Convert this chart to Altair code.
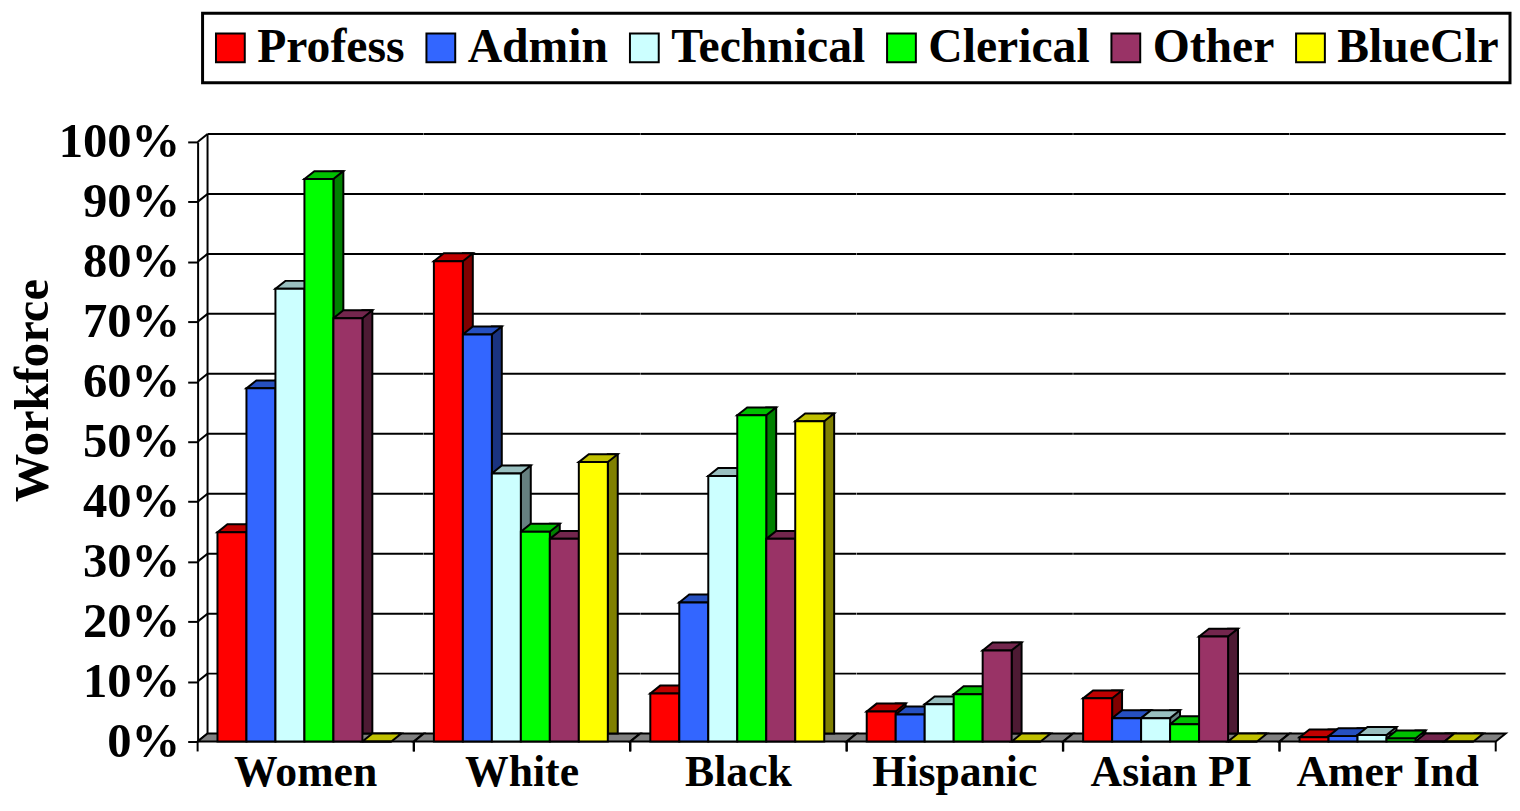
import altair as alt
import pandas as pd

# ---------------- data ----------------
groups = ["Women", "White", "Black", "Hispanic", "Asian PI", "Amer Ind"]
series = ["Profess", "Admin", "Technical", "Clerical", "Other", "BlueClr"]
profess = [34.9, 80.1, 8.0, 5.0, 7.2, 0.7]
admin = [58.9, 67.9, 23.2, 4.5, 3.9, 0.9]
technical = [75.5, 44.7, 44.3, 6.2, 3.9, 1.1]
clerical = [93.8, 35.0, 54.4, 7.9, 2.9, 0.5]
other = [70.6, 33.8, 33.8, 15.2, 17.5, 0.0]
blueclr = [0.0, 46.6, 53.4, 0.0, 0.0, 0.0]
tick_values = [0, 10, 20, 30, 40, 50, 60, 70, 80, 90, 100]

# ---------------- styles ----------------
front_colors = ["#FF0000", "#3366FF", "#CCFFFF", "#00FF00", "#993366", "#FFFF00"]
top_colors = ["#C00000", "#2650C0", "#99C0C0", "#00C000", "#73264D", "#C0C000"]
side_colors = ["#800000", "#1A3380", "#668080", "#008000", "#4D1A33", "#808000"]
FONT = "Liberation Serif"

W = 217.6           # width of one group panel
H = 604             # plot height
STEP = 29.2         # bar width
DX, DY = 10, 8      # 3-D depth offsets
PO = (W / STEP - 6) / 2
ALIGN = 20 / (W - 6 * STEP)
U = 10.0            # custom-symbol unit (size 400 -> 10px per unit)

top_path = "M{a:.3f},0L{b:.3f},0L{c:.3f},{d:.3f}L{e:.3f},{d:.3f}Z".format(
    a=-STEP / 2 / U, b=STEP / 2 / U, c=(STEP / 2 + DX) / U, d=-DY / U, e=(-STEP / 2 + DX) / U)
floor_path = "M0,0L{b:.3f},0L{c:.3f},{d:.3f}L{e:.3f},{d:.3f}Z".format(
    b=W / U, c=(W + DX) / U, d=-DY / U, e=DX / U)

# ---------------- table ----------------
vals = [profess, admin, technical, clerical, other, blueclr]
records = []
for si, s in enumerate(series):
    for gi, g in enumerate(groups):
        records.append({"kind": "bar", "group": g, "series": s, "value": vals[si][gi]})
for g in groups:
    for t in tick_values:
        records.append({"kind": "grid", "group": g, "series": "", "tick": t})
df = pd.DataFrame(records)

x_enc = alt.X("series:N", sort=series,
              scale=alt.Scale(domain=series, paddingInner=0, paddingOuter=PO, align=ALIGN),
              axis=None)
y_scale = alt.Scale(domain=[0, 100], nice=False, zero=True)
y_axis = alt.Axis(values=tick_values, labelExpr="datum.value + '%'", grid=False,
                  tickSize=10, tickWidth=2, tickColor="black",
                  domainColor="black", domainWidth=2,
                  labelFont=FONT, labelFontSize=49, labelFontWeight="bold",
                  labelColor="black", labelPadding=8, labelOverlap=False,
                  title="Workforce", titleFont=FONT, titleFontSize=49,
                  titleFontWeight="bold", titleColor="black", titlePadding=1,
                  titleY=250)

base = alt.Chart()
is_bar = alt.datum.kind == "bar"
is_grid = alt.datum.kind == "grid"
one_row = (alt.datum.kind == "bar") & (alt.datum.series == "Profess")

# back-wall gridlines
grid = base.mark_rule(color="black", strokeWidth=2, yOffset=-DY).encode(
    y=alt.Y("tick:Q", scale=y_scale, axis=y_axis, title="Workforce"),
    x=alt.value(DX), x2=alt.value(W + DX),
).transform_filter(is_grid & (alt.datum.tick > 0))

# diagonal wall ticks (first panel)
wall_diag = base.mark_rule(color="black", strokeWidth=2, y2Offset=-DY).encode(
    y=alt.Y("tick:Q", scale=y_scale, axis=y_axis, title="Workforce"), y2="tick:Q",
    x=alt.value(0), x2=alt.value(DX),
).transform_filter(is_grid & (alt.datum.group == "Women"))

wall_back = base.mark_rule(color="black", strokeWidth=2, yOffset=-DY, y2Offset=-DY).encode(
    y=alt.YDatum(0, scale=y_scale, axis=y_axis, title="Workforce"), y2=alt.Y2Datum(100),
    x=alt.value(DX),
).transform_filter(one_row & (alt.datum.group == "Women"))

floor = base.mark_point(shape=floor_path, size=U * U * 4, filled=True, fill="#808080",
                        stroke="black", strokeWidth=2, opacity=1).encode(
    x=alt.value(0), y=alt.YDatum(0, scale=y_scale, axis=y_axis, title="Workforce"),
).transform_filter(one_row)

sides = base.mark_bar(width=DX, xOffset=STEP / 2 + DX / 2, yOffset=-DY, y2Offset=-DY,
                      stroke="black", strokeWidth=2).encode(
    x=x_enc,
    y=alt.Y("value:Q", scale=y_scale, axis=y_axis, title="Workforce"),
    fill=alt.Fill("series:N", scale=alt.Scale(domain=series, range=side_colors), legend=None),
).transform_filter(is_bar)

tops = base.mark_point(shape=top_path, size=U * U * 4, filled=True, stroke="black",
                       strokeWidth=2, opacity=1).encode(
    x=x_enc,
    y=alt.Y("value:Q", scale=y_scale, axis=y_axis, title="Workforce"),
    fill=alt.Fill("series:N", scale=alt.Scale(domain=series, range=top_colors), legend=None),
).transform_filter(is_bar)

fronts = base.mark_bar(stroke="black", strokeWidth=2).encode(
    x=x_enc,
    y=alt.Y("value:Q", scale=y_scale, axis=y_axis, title="Workforce"),
    color=alt.Color("series:N", sort=series,
                    scale=alt.Scale(domain=series, range=front_colors),
                    legend=alt.Legend(title=None, orient="none", legendX=5, legendY=-129.7,
                                      direction="horizontal", columns=6,
                                      symbolType="square", symbolSize=841,
                                      symbolStrokeColor="black", symbolStrokeWidth=2,
                                      symbolOffset=-7,
                                      labelFont=FONT, labelFontSize=48,
                                      labelFontWeight="bold", labelColor="black",
                                      labelLimit=400, labelOffset=3, columnPadding=17,
                                      padding=11, strokeColor="black")),
).transform_filter(is_bar)

tick_left = base.mark_rule(color="black", strokeWidth=2, y2Offset=10).encode(
    x=alt.value(0), y=alt.YDatum(0, scale=y_scale, axis=y_axis, title="Workforce"),
    y2=alt.Y2Datum(0),
).transform_filter(one_row)

tick_right = base.mark_rule(color="black", strokeWidth=2, y2Offset=10).encode(
    x=alt.value(W), y=alt.YDatum(0, scale=y_scale, axis=y_axis, title="Workforce"),
    y2=alt.Y2Datum(0),
).transform_filter(one_row)

layered = alt.layer(grid, wall_diag, wall_back, floor, sides, tops, fronts,
                    tick_left, tick_right, data=df).resolve_scale(fill="independent")

chart = layered.properties(width=W, height=H).facet(
    column=alt.Column("group:N", sort=groups, title=None,
                      header=alt.Header(labelOrient="bottom", labelFont=FONT,
                                        labelFontSize=44, labelFontWeight="bold",
                                        labelColor="black", labelPadding=10,
                                        labelBaseline="top")),
    spacing=0,
    bounds="flush",
).properties(
    padding={"left": 0, "top": 0, "right": 0, "bottom": 0}
).configure_view(stroke="transparent").configure_legend(strokeWidth=3)

chart.save("out.html", embed_options={"renderer": "svg", "actions": False})
